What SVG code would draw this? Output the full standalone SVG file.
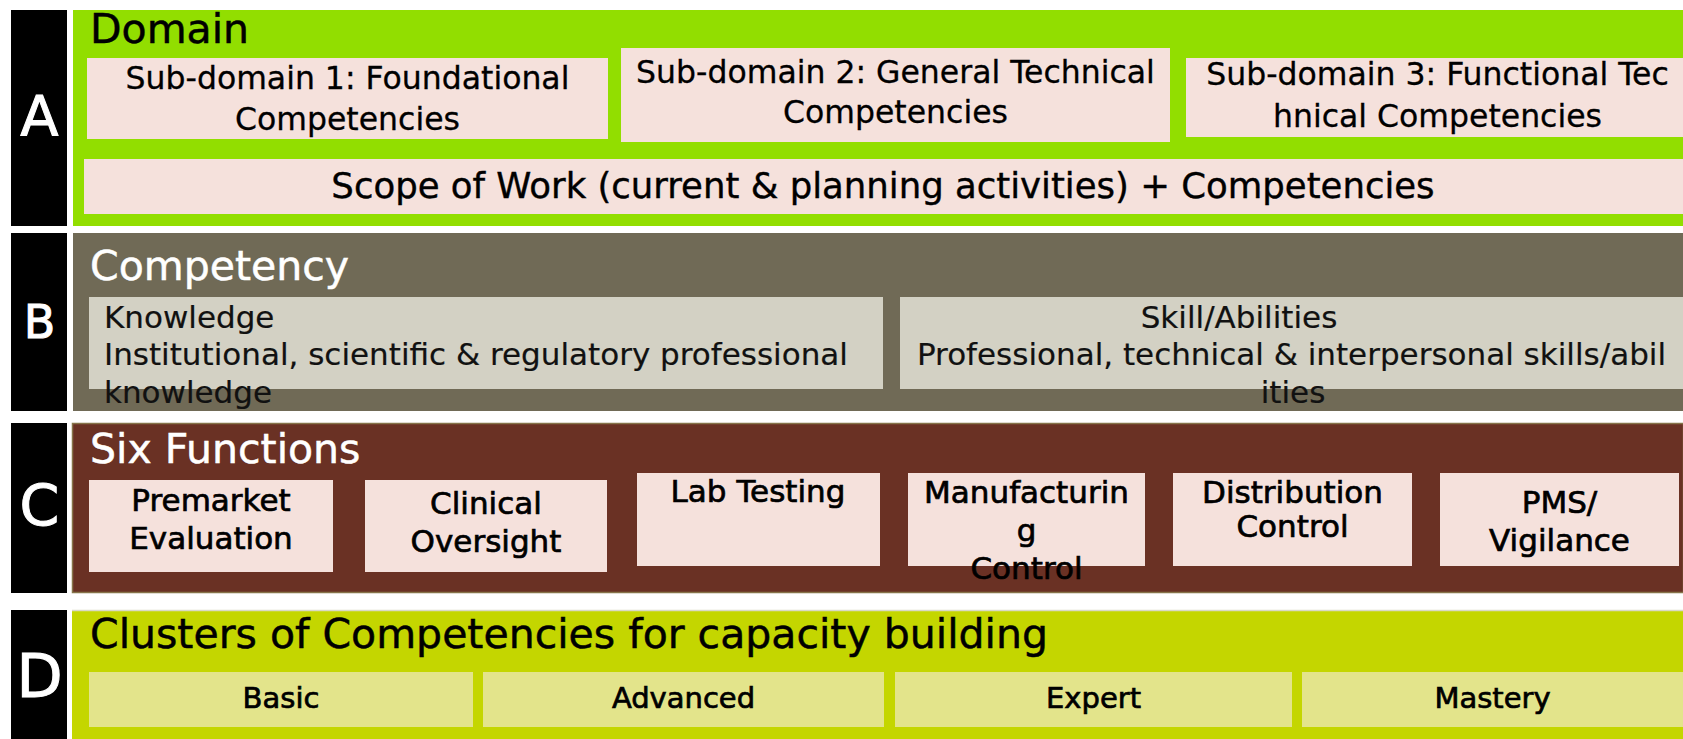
<svg xmlns="http://www.w3.org/2000/svg" width="1683" height="739" viewBox="0 0 1683 739">
<style>
text{font-family:"DejaVu Sans","Verdana",sans-serif;}
.lbl{fill:#000;}
.side{fill:#fff;text-anchor:middle;stroke:#fff;stroke-width:1;}
.ttl{font-size:41px;stroke-width:0.5;}
.pk{fill:#F5E1DC;}
.sd{font-size:31.5px;text-anchor:middle;fill:#000;stroke:#000;stroke-width:0.3;}
.kb{fill:#D3D1C4;}
.kt{font-size:31px;fill:#111;stroke:#111;stroke-width:0.2;}
.fn{font-size:31px;text-anchor:middle;fill:#000;stroke:#000;stroke-width:0.7;}
.cl{fill:#E3E48B;}
.ct{font-size:29px;text-anchor:middle;fill:#000;stroke:#000;stroke-width:0.7;}
</style>
<rect width="1683" height="739" fill="#fff"/>

<g id="sidebar">
<rect x="11" y="10" width="56" height="216" fill="#000"/>
<rect x="11" y="233" width="56" height="178" fill="#000"/>
<rect x="11" y="423" width="56" height="170" fill="#000"/>
<rect x="11" y="610" width="56" height="129" fill="#000"/>
<text class="side" x="39.5" y="135" font-size="56">A</text>
<text class="side" x="39.5" y="338" font-size="46">B</text>
<text class="side" x="39.5" y="526" font-size="57">C</text>
<text class="side" x="39.5" y="697" font-size="60">D</text>
</g>

<g id="domain">
<rect x="73" y="10" width="1610" height="216" fill="#92DE00"/>
<text class="ttl lbl" x="90" y="43" stroke="#000">Domain</text>
</g>
<g id="subdomain1">
<rect class="pk" x="87" y="58" width="521" height="81"/>
<text class="sd" x="347.5" y="89">Sub-domain 1: Foundational</text>
<text class="sd" x="347.5" y="130">Competencies</text>
</g>
<g id="subdomain2">
<rect class="pk" x="621" y="48" width="549" height="94"/>
<text class="sd" x="895.5" y="83">Sub-domain 2: General Technical</text>
<text class="sd" x="895.5" y="123">Competencies</text>
</g>
<g id="subdomain3">
<rect class="pk" x="1186" y="58" width="497" height="79"/>
<text class="sd" x="1437.5" y="85">Sub-domain 3: Functional Tec</text>
<text class="sd" x="1437.5" y="127">hnical Competencies</text>
</g>
<g id="scope">
<rect class="pk" x="84" y="159" width="1599" height="55"/>
<text x="883" y="198" font-size="35.5" text-anchor="middle" fill="#000" stroke="#000" stroke-width="0.4">Scope of Work (current &amp; planning activities) + Competencies</text>
</g>

<g id="competency">
<rect x="73" y="233" width="1610" height="178" fill="#706A56"/>
<text class="ttl" x="90" y="280" fill="#fff" stroke="#fff">Competency</text>
</g>
<g id="knowledge">
<rect class="kb" x="89" y="297" width="794" height="92"/>
<text class="kt" x="104" y="328">Knowledge</text>
<text class="kt" x="104" y="365">Institutional, scientific &amp; regulatory professional</text>
<text class="kt" x="104" y="403">knowledge</text>
</g>
<g id="skills">
<rect class="kb" x="900" y="297" width="783" height="92"/>
<text class="kt" x="1239" y="328" text-anchor="middle">Skill/Abilities</text>
<text class="kt" x="1291.5" y="365" text-anchor="middle">Professional, technical &amp; interpersonal skills/abil</text>
<text class="kt" x="1293" y="403" text-anchor="middle">ities</text>
</g>

<g id="six-functions">
<rect x="72.5" y="423.5" width="1611" height="169" fill="#6A3124" stroke="#86744A" stroke-width="1.5"/>
<text class="ttl" x="90" y="463" fill="#fff" stroke="#fff">Six Functions</text>
</g>
<g id="premarket">
<rect class="pk" x="89" y="480" width="244" height="92"/>
<text class="fn" x="211" y="511">Premarket</text>
<text class="fn" x="211" y="549">Evaluation</text>
</g>
<g id="clinical">
<rect class="pk" x="365" y="480" width="242" height="92"/>
<text class="fn" x="486" y="514">Clinical</text>
<text class="fn" x="486" y="552">Oversight</text>
</g>
<g id="lab">
<rect class="pk" x="637" y="473" width="243" height="93"/>
<text class="fn" x="758" y="502">Lab Testing</text>
</g>
<g id="manufacturing">
<rect class="pk" x="908" y="473" width="237" height="93"/>
<text class="fn" x="1026.5" y="503">Manufacturin</text>
<text class="fn" x="1026.5" y="541">g</text>
<text class="fn" x="1026.5" y="579">Control</text>
</g>
<g id="distribution">
<rect class="pk" x="1173" y="473" width="239" height="93"/>
<text class="fn" x="1292.5" y="503">Distribution</text>
<text class="fn" x="1292.5" y="537" font-size="27.5">Control</text>
</g>
<g id="pms">
<rect class="pk" x="1440" y="473" width="239" height="93"/>
<text class="fn" x="1559.5" y="513">PMS/</text>
<text class="fn" x="1559.5" y="551">Vigilance</text>
</g>

<g id="clusters">
<rect x="72" y="610" width="1611" height="129" fill="#C4D600"/>
<line x1="72" y1="610.5" x2="1683" y2="610.5" stroke="#D9D9C8" stroke-width="1.5"/>
<text class="ttl lbl" x="90" y="648" stroke="#000" stroke-width="0.8">Clusters of Competencies for capacity building</text>
</g>
<g id="basic">
<rect class="cl" x="89" y="672" width="384" height="55"/>
<text class="ct" x="281" y="708">Basic</text>
</g>
<g id="advanced">
<rect class="cl" x="483" y="672" width="401" height="55"/>
<text class="ct" x="683.5" y="708">Advanced</text>
</g>
<g id="expert">
<rect class="cl" x="895" y="672" width="397" height="55"/>
<text class="ct" x="1093.5" y="708">Expert</text>
</g>
<g id="mastery">
<rect class="cl" x="1302" y="672" width="381" height="55"/>
<text class="ct" x="1492.5" y="708">Mastery</text>
</g>
<g id="connectors"></g>
</svg>
